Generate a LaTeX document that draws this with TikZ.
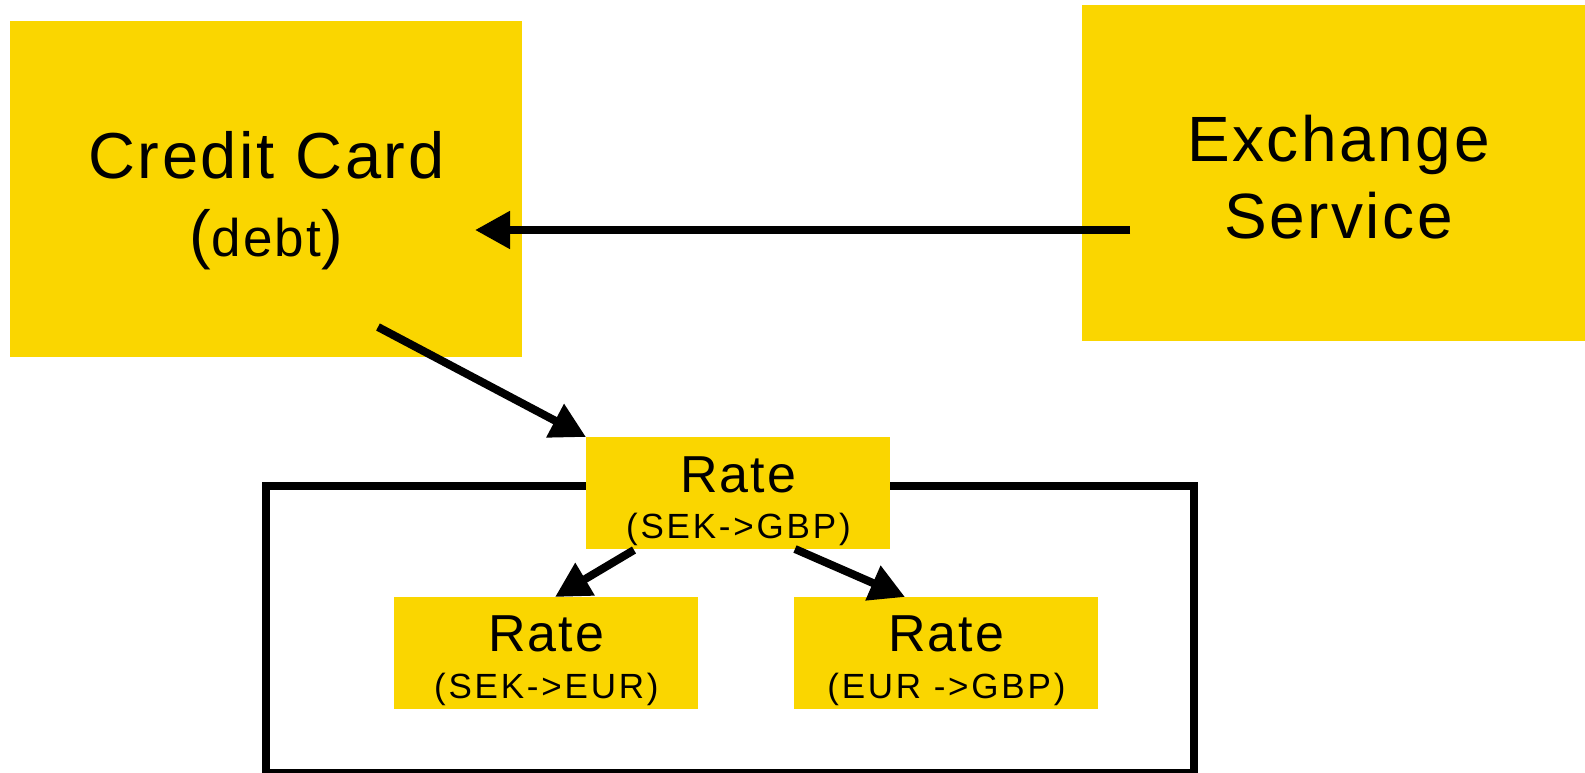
\documentclass[tikz,border=0pt]{standalone}
\usepackage{fontspec}
\setmainfont{Liberation Sans}
\newfontfamily\mainls[LetterSpace=4]{Liberation Sans}
\newfontfamily\subls[LetterSpace=8]{Liberation Sans}
\usetikzlibrary{arrows.meta}
\definecolor{boxyellow}{RGB}{250,214,0}
\newcommand{\fsz}[2]{\fontsize{#1}{#2}\selectfont}
\begin{document}
\begin{tikzpicture}[x=0.5pt,y=-0.5pt,
  box/.style={fill=boxyellow, inner sep=0pt, align=center, anchor=north west},
  bigbox/.style={box, minimum width=256pt, minimum height=168pt},
  ratebox/.style={box, minimum width=152pt, minimum height=56pt,
     text height=50.5pt, text depth=5.5pt},
  frame/.style={draw, line width=4pt, inner sep=0pt, fill=none},
  arr/.style={line width=4pt, -{Triangle[length=17.5pt,width=18pt]}}]
\useasboundingbox (0,0) rectangle (1585,772);

% big boxes
\node[bigbox, text height=117.5pt, text depth=50.5pt,
      font=\mainls\fsz{32.5pt}{38.75pt}] (cc) at (10,21)
  {Credit Card\\({\fsz{26.5pt}{38.75pt}debt})};
\node[bigbox, text height=116.35pt, text depth=51.65pt,
      font=\mainls\fsz{32pt}{38.5pt}] (ex) at (1082,5)
  {Exchange\\Service};

% frame
\node[frame, minimum width=464pt, minimum height=143.75pt] (frame) at (730,629.25) {};

% rate boxes
\node[ratebox, font=\mainls\fsz{26pt}{23pt}] (r1) at (586,437)
  {Rate\\{\subls\fsz{17.5pt}{23pt}(SEK->GBP)}};
\node[ratebox, font=\mainls\fsz{26pt}{23.5pt}] (r2) at (394,597)
  {Rate\\{\subls\fsz{17.5pt}{23.5pt}(SEK->EUR)}};
\node[ratebox, font=\mainls\fsz{26pt}{23.5pt}] (r3) at (794,597)
  {Rate\\{\subls\fsz{17.5pt}{23.5pt}(EUR ->GBP)}};

% connector end points
\coordinate (exout) at (1130,230);
\coordinate (ccin) at (475,230);
\coordinate (ccout) at (378,327);
\coordinate (r1outL) at (634,550);
\coordinate (r1outR) at (795,549);
\coordinate (r2in) at (555,597);
\coordinate (r3in) at (905,597);

% connectors
\draw[arr] (exout) -- (ccin);
\draw[arr] (ccout) -- (r1.north west);
\draw[arr] (r1outL) -- (r2in);
\draw[arr] (r1outR) -- (r3in);
\end{tikzpicture}
\end{document}
